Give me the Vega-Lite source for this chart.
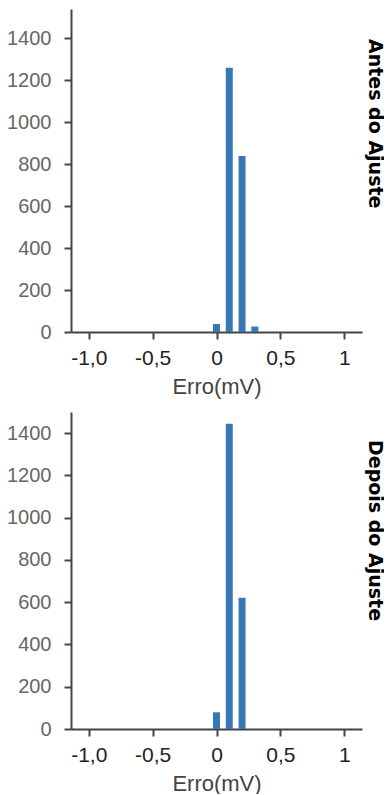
{
  "$schema": "https://vega.github.io/schema/vega-lite/v6.json",
  "padding": {"left": 6, "top": 9, "right": 0, "bottom": 0},
  "background": "white",
  "config": {
    "font": "Arial",
    "view": {"stroke": null},
    "axis": {"grid": false, "domainColor": "#444", "domainWidth": 2, "tickColor": "#444", "tickWidth": 2, "tickSize": 7}
  },
  "data": {
    "values": [
      {"painel": "Antes do Ajuste", "erro": 0.0, "n": 38},
      {"painel": "Antes do Ajuste", "erro": 0.1, "n": 1260},
      {"painel": "Antes do Ajuste", "erro": 0.2, "n": 839},
      {"painel": "Antes do Ajuste", "erro": 0.3, "n": 26},
      {"painel": "Depois do Ajuste", "erro": 0.0, "n": 79},
      {"painel": "Depois do Ajuste", "erro": 0.1, "n": 1444},
      {"painel": "Depois do Ajuste", "erro": 0.2, "n": 621}
    ]
  },
  "spacing": 15,
  "vconcat": [
    {
      "width": 291,
      "height": 323,
      "title": {"text": "Antes do Ajuste", "orient": "right", "anchor": "start", "dx": 30, "font": "DejaVu Sans", "fontSize": 19, "fontWeight": "bold", "color": "#000", "offset": 3},
      "transform": [{"filter": "datum.painel === 'Antes do Ajuste'"}],
      "mark": {"type": "bar", "size": 7, "color": "#3a78b5"},
      "encoding": {
        "x": {
          "field": "erro", "type": "quantitative",
          "scale": {"domain": [-1.1, 1.1], "nice": false, "zero": false},
          "axis": {
            "values": [-1, -0.5, 0, 0.5, 1],
            "labelExpr": "datum.value == -1 ? '-1,0' : datum.value == -0.5 ? '-0,5' : datum.value == 0 ? '0' : datum.value == 0.5 ? '0,5' : '1'",
            "labelFontSize": 21, "labelColor": "#222", "labelPadding": 8,
            "title": "Erro(mV)", "titleFontSize": 22, "titleFontWeight": "normal", "titleColor": "#444", "titlePadding": 8
          }
        },
        "y": {
          "field": "n", "type": "quantitative",
          "scale": {"domain": [0, 1540], "nice": false},
          "axis": {"values": [0, 200, 400, 600, 800, 1000, 1200, 1400], "format": "d", "labelFontSize": 20, "labelColor": "#666", "labelPadding": 13, "title": null}
        }
      }
    },
    {
      "width": 291,
      "height": 317,
      "title": {"text": "Depois do Ajuste", "orient": "right", "anchor": "start", "dx": 28, "font": "DejaVu Sans", "fontSize": 19, "fontWeight": "bold", "color": "#000", "offset": 3},
      "transform": [{"filter": "datum.painel === 'Depois do Ajuste'"}],
      "mark": {"type": "bar", "size": 7, "color": "#3a78b5"},
      "encoding": {
        "x": {
          "field": "erro", "type": "quantitative",
          "scale": {"domain": [-1.1, 1.1], "nice": false, "zero": false},
          "axis": {
            "values": [-1, -0.5, 0, 0.5, 1],
            "labelExpr": "datum.value == -1 ? '-1,0' : datum.value == -0.5 ? '-0,5' : datum.value == 0 ? '0' : datum.value == 0.5 ? '0,5' : '1'",
            "labelFontSize": 21, "labelColor": "#222", "labelPadding": 8,
            "title": "Erro(mV)", "titleFontSize": 22, "titleFontWeight": "normal", "titleColor": "#444", "titlePadding": 8
          }
        },
        "y": {
          "field": "n", "type": "quantitative",
          "scale": {"domain": [0, 1500], "nice": false},
          "axis": {"values": [0, 200, 400, 600, 800, 1000, 1200, 1400], "format": "d", "labelFontSize": 20, "labelColor": "#666", "labelPadding": 13, "title": null}
        }
      }
    }
  ]
}
